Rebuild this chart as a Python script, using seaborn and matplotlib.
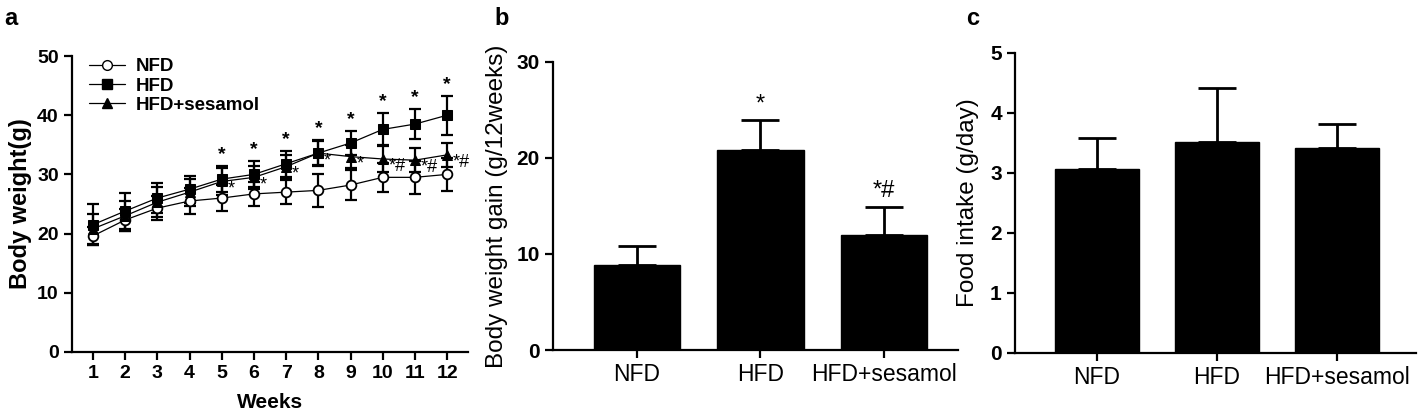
import numpy as np
import pandas as pd
import seaborn as sns
import matplotlib.pyplot as plt
from matplotlib.lines import Line2D

sns.set_style('ticks')
plt.rcParams['font.family'] = ['Liberation Sans', 'DejaVu Sans']
plt.rcParams.update({'text.color': 'black', 'axes.labelcolor': 'black',
                     'xtick.color': 'black', 'ytick.color': 'black',
                     'axes.edgecolor': 'black'})

# ---- data ----
weeks = list(range(1, 13))
groups = ['NFD', 'HFD', 'HFD+sesamol']

nfd_mean = [19.6, 22.3, 24.3, 25.5, 26.0, 26.7, 27.0, 27.3, 28.2, 29.5, 29.5, 30.0]
nfd_sd = [1.5, 1.8, 2.0, 2.2, 2.2, 2.0, 2.0, 2.8, 2.6, 2.5, 2.8, 2.8]
hfd_mean = [21.5, 23.8, 26.0, 27.5, 29.2, 30.0, 31.8, 33.6, 35.3, 37.6, 38.5, 40.0]
hfd_sd = [3.5, 3.0, 2.5, 2.3, 2.2, 2.2, 2.2, 2.2, 2.0, 2.7, 2.6, 3.3]
ses_mean = [20.8, 23.0, 25.3, 27.0, 28.8, 29.5, 31.3, 33.6, 33.0, 32.6, 32.4, 33.3]
ses_sd = [2.5, 2.5, 2.5, 2.3, 2.2, 2.0, 2.0, 2.0, 2.0, 2.2, 2.0, 2.0]
hfd_marks = ['', '', '', '', '*', '*', '*', '*', '*', '*', '*', '*']
ses_marks = ['', '', '', '', '*', '*', '*', '*', '*', '*#', '*#', '*#']

gain_mean = [8.8, 20.8, 12.0]
gain_sd = [2.0, 3.1, 2.9]
gain_marks = ['', '*', '*#']

food_mean = [3.07, 3.52, 3.42]
food_sd = [0.51, 0.90, 0.40]

fig = plt.figure(figsize=(14.18, 4.15), dpi=100)
ax1 = fig.add_axes([0.0508, 0.152, 0.2793, 0.713])
ax2 = fig.add_axes([0.390, 0.1566, 0.2856, 0.6946])
ax3 = fig.add_axes([0.7158, 0.150, 0.2830, 0.723])


def style_axis(ax):
    sns.despine(ax=ax)
    for s in ['left', 'bottom']:
        ax.spines[s].set_linewidth(1.6)
    ax.tick_params(width=1.6, length=6, direction='out')


# ---- panel a: body weight over time ----
df = pd.DataFrame({
    'week': weeks * 3,
    'weight': nfd_mean + hfd_mean + ses_mean,
    'group': ['NFD'] * 12 + ['HFD'] * 12 + ['HFD+sesamol'] * 12,
})
sns.lineplot(data=df, x='week', y='weight', hue='group', style='group',
             hue_order=groups, style_order=groups,
             palette=['black'] * 3, markers={'NFD': 'o', 'HFD': 's', 'HFD+sesamol': '^'},
             dashes=False, markersize=7, markeredgecolor='black', linewidth=0.9,
             legend=False, ax=ax1, zorder=3)
ax1.lines[0].set_markerfacecolor('white')
ax1.lines[0].set_markeredgewidth(1.3)

for m, sd in [(nfd_mean, nfd_sd), (hfd_mean, hfd_sd), (ses_mean, ses_sd)]:
    ax1.errorbar(weeks, m, yerr=sd, fmt='none', ecolor='black',
                 elinewidth=1.6, capsize=4, capthick=1.6, zorder=2)

for w, m, sd, t in zip(weeks, hfd_mean, hfd_sd, hfd_marks):
    if t:
        ax1.text(w, m + sd + 0.5, t, ha='center', va='bottom', fontsize=14, fontweight='bold')
for w, m, t in zip(weeks, ses_mean, ses_marks):
    if t:
        ax1.text(w + 0.18, m - 1.3, t, ha='left', va='center', fontsize=13)

handles = [Line2D([], [], color='black', lw=0.9, marker=mk, markersize=7,
                  markerfacecolor=fc, markeredgecolor='black')
           for mk, fc in [('o', 'white'), ('s', 'black'), ('^', 'black')]]
leg = ax1.legend(handles, groups, loc='upper left', bbox_to_anchor=(0.0, 1.05),
                 frameon=False, handlelength=1.9, handletextpad=0.6, labelspacing=0.12,
                 prop={'size': 13.5, 'weight': 'bold'})

ax1.set_xlim(0.35, 12.65)
ax1.set_ylim(0, 50)
ax1.set_xticks(weeks)
ax1.set_yticks([0, 10, 20, 30, 40, 50])
ax1.set_xlabel('Weeks', fontsize=15, fontweight='bold', labelpad=8)
ax1.set_ylabel('Body weight(g)', fontsize=17, fontweight='bold', labelpad=4)
style_axis(ax1)
for lab in ax1.get_xticklabels() + ax1.get_yticklabels():
    lab.set_fontsize(14)
    lab.set_fontweight('bold')

# ---- panel b: body weight gain ----
sns.barplot(x=groups, y=gain_mean, color='black', saturation=1, width=0.7,
            edgecolor='black', linewidth=1, errorbar=None, ax=ax2, zorder=3)
ax2.errorbar(range(3), gain_mean, yerr=[np.zeros(3), gain_sd], fmt='none',
             ecolor='black', elinewidth=2, capsize=14, capthick=2, zorder=2)
for i, (m, sd, t) in enumerate(zip(gain_mean, gain_sd, gain_marks)):
    if t:
        ax2.text(i, m + sd + 0.5, t, ha='center', va='bottom', fontsize=17)
ax2.set_xlim(-0.68, 2.6)
ax2.set_ylim(0, 30)
ax2.set_yticks([0, 10, 20, 30])
ax2.set_ylabel('Body weight gain (g/12weeks)', fontsize=17.5, labelpad=6)
style_axis(ax2)
for lab in ax2.get_yticklabels():
    lab.set_fontsize(15)
    lab.set_fontweight('bold')
for lab in ax2.get_xticklabels():
    lab.set_fontsize(16.5)

# ---- panel c: food intake ----
sns.barplot(x=groups, y=food_mean, color='black', saturation=1, width=0.7,
            edgecolor='black', linewidth=1, errorbar=None, ax=ax3, zorder=3)
ax3.errorbar(range(3), food_mean, yerr=[np.zeros(3), food_sd], fmt='none',
             ecolor='black', elinewidth=2, capsize=14, capthick=2, zorder=2)
ax3.set_xlim(-0.68, 2.66)
ax3.set_ylim(0, 5)
ax3.set_yticks([0, 1, 2, 3, 4, 5])
ax3.set_ylabel('Food intake (g/day)', fontsize=17.5, labelpad=8)
style_axis(ax3)
for lab in ax3.get_yticklabels():
    lab.set_fontsize(15)
    lab.set_fontweight('bold')
for lab in ax3.get_xticklabels():
    lab.set_fontsize(16.5)

# panel letters
for x, t in [(0.003, 'a'), (0.349, 'b'), (0.681, 'c')]:
    fig.text(x, 0.955, t, fontsize=17, fontweight='bold', va='center', ha='left')

fig.savefig('out.png', dpi=100)
